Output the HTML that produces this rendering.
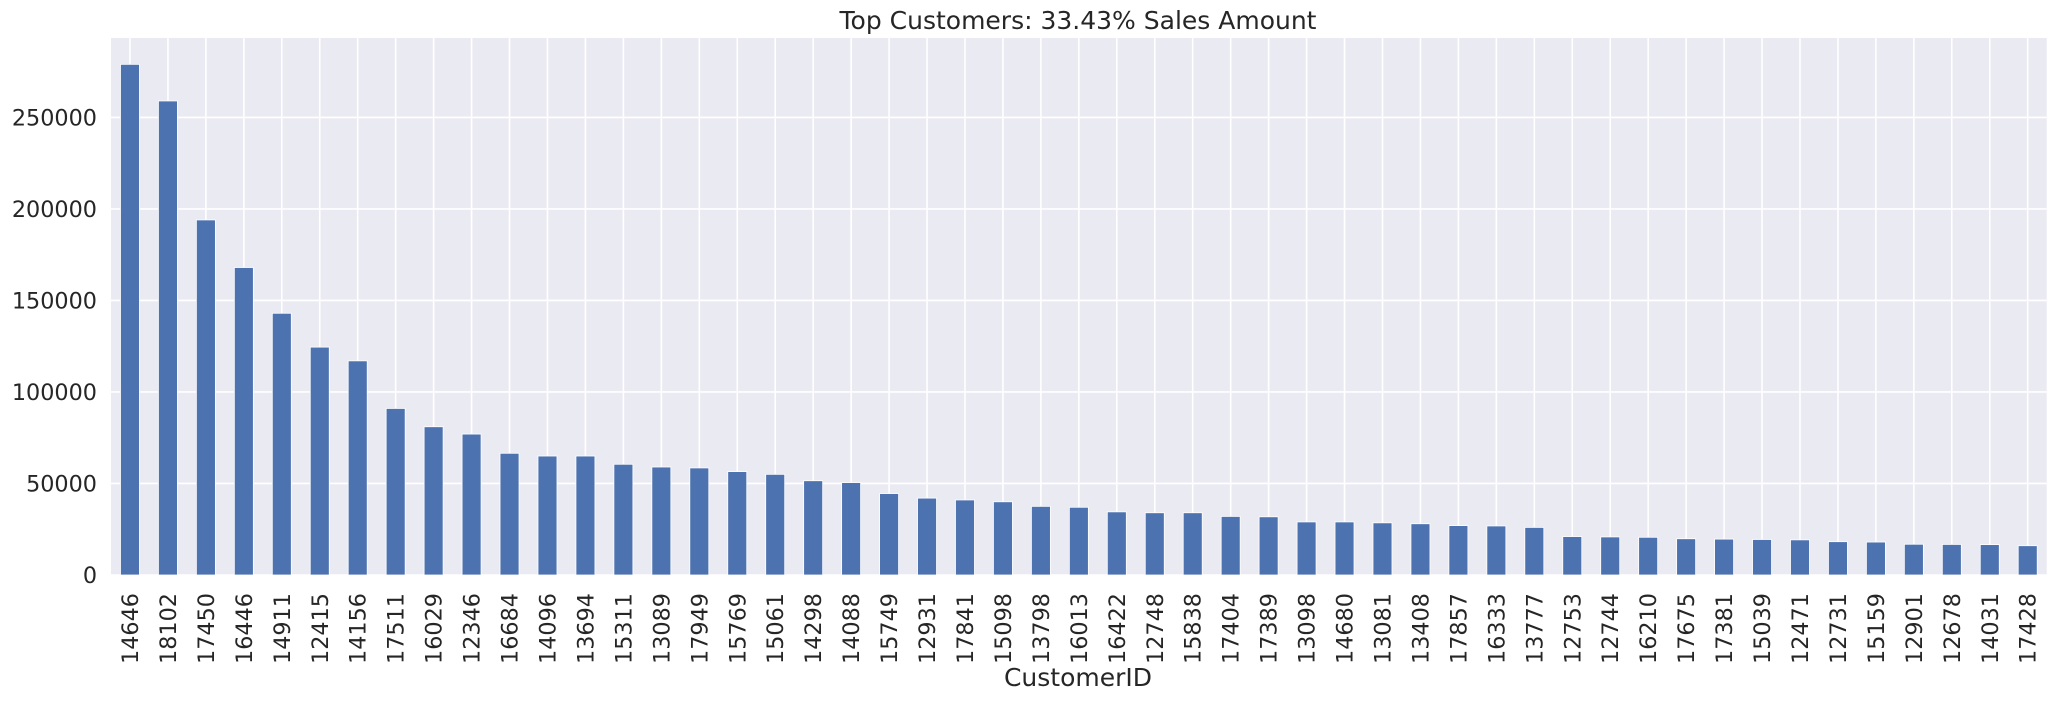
<!DOCTYPE html>
<html><head><meta charset="utf-8"><style>
body{margin:0;background:#fff;}
svg{display:block;font-family:"DejaVu Sans","Liberation Sans",sans-serif;}
</style></head><body>
<svg id="chart" width="2057" height="702">
<rect x="111" y="38" width="1935.7" height="537" fill="#eaeaf2"/>
<g id="grid"></g><g id="bars"></g><g id="yticks"></g><g id="xticks"></g>
<text x="1078" y="29" font-size="25" text-anchor="middle" fill="#262626">Top Customers: 33.43% Sales Amount</text>
<text x="1078" y="686" font-size="25" text-anchor="middle" fill="#262626">CustomerID</text>
</svg>
<script>
const categories=["14646","18102","17450","16446","14911","12415","14156","17511","16029","12346","16684","14096","13694","15311","13089","17949","15769","15061","14298","14088","15749","12931","17841","15098","13798","16013","16422","12748","15838","17404","17389","13098","14680","13081","13408","17857","16333","13777","12753","12744","16210","17675","17381","15039","12471","12731","15159","12901","12678","14031","17428"];
const salesValues=[279000,259000,194000,168000,143000,124500,117000,91000,81000,77000,66500,65000,65000,60500,59000,58500,56500,55000,51500,50500,44500,42000,41000,40000,37500,37000,34500,34000,34000,32000,31800,29000,29000,28500,28000,27000,26800,26000,21000,20800,20600,19800,19600,19400,19200,18200,18000,16800,16700,16600,16000];
const yTicks=[0,50000,100000,150000,200000,250000];
const L=111,R=2046.7,T=38,B=575,yMax=293400;
const NS="http://www.w3.org/2000/svg";
const step=(R-L)/categories.length;
function x(i){return L+step*(i+0.5);}
function y(v){return B-(v/yMax)*(B-T);}
function mk(tag,attrs,parent){const e=document.createElementNS(NS,tag);for(const k in attrs)e.setAttribute(k,attrs[k]);parent.appendChild(e);return e;}
const grid=document.getElementById('grid'),bars=document.getElementById('bars'),yt=document.getElementById('yticks'),xt=document.getElementById('xticks');
yTicks.forEach(v=>{
  const ln=mk('line',{x1:L,x2:R,y1:y(v),y2:y(v),stroke:'#fff','stroke-width':1.6},grid);
  
  
  const t=mk('text',{x:97,y:y(v)+8,'font-size':22.3,'text-anchor':'end',fill:'#262626'},yt);
  t.textContent=v;
  
  
});
categories.forEach((c,i)=>{
  const ln=mk('line',{x1:x(i),x2:x(i),y1:T,y2:B,stroke:'#fff','stroke-width':1.6},grid);
  
  
  const w=step*0.5;
  const r=mk('rect',{x:x(i)-w/2,y:y(salesValues[i]),width:w,height:B-y(salesValues[i]),fill:'#4c72b0',stroke:'#fff','stroke-width':0.8},bars);
  
  
  const t=mk('text',{x:0,y:0,'font-size':22.3,'text-anchor':'end',fill:'#262626',transform:'translate('+(x(i)+8)+',593) rotate(-90)'},xt);
  t.textContent=c;
  
  
});
</script>
</body></html>
